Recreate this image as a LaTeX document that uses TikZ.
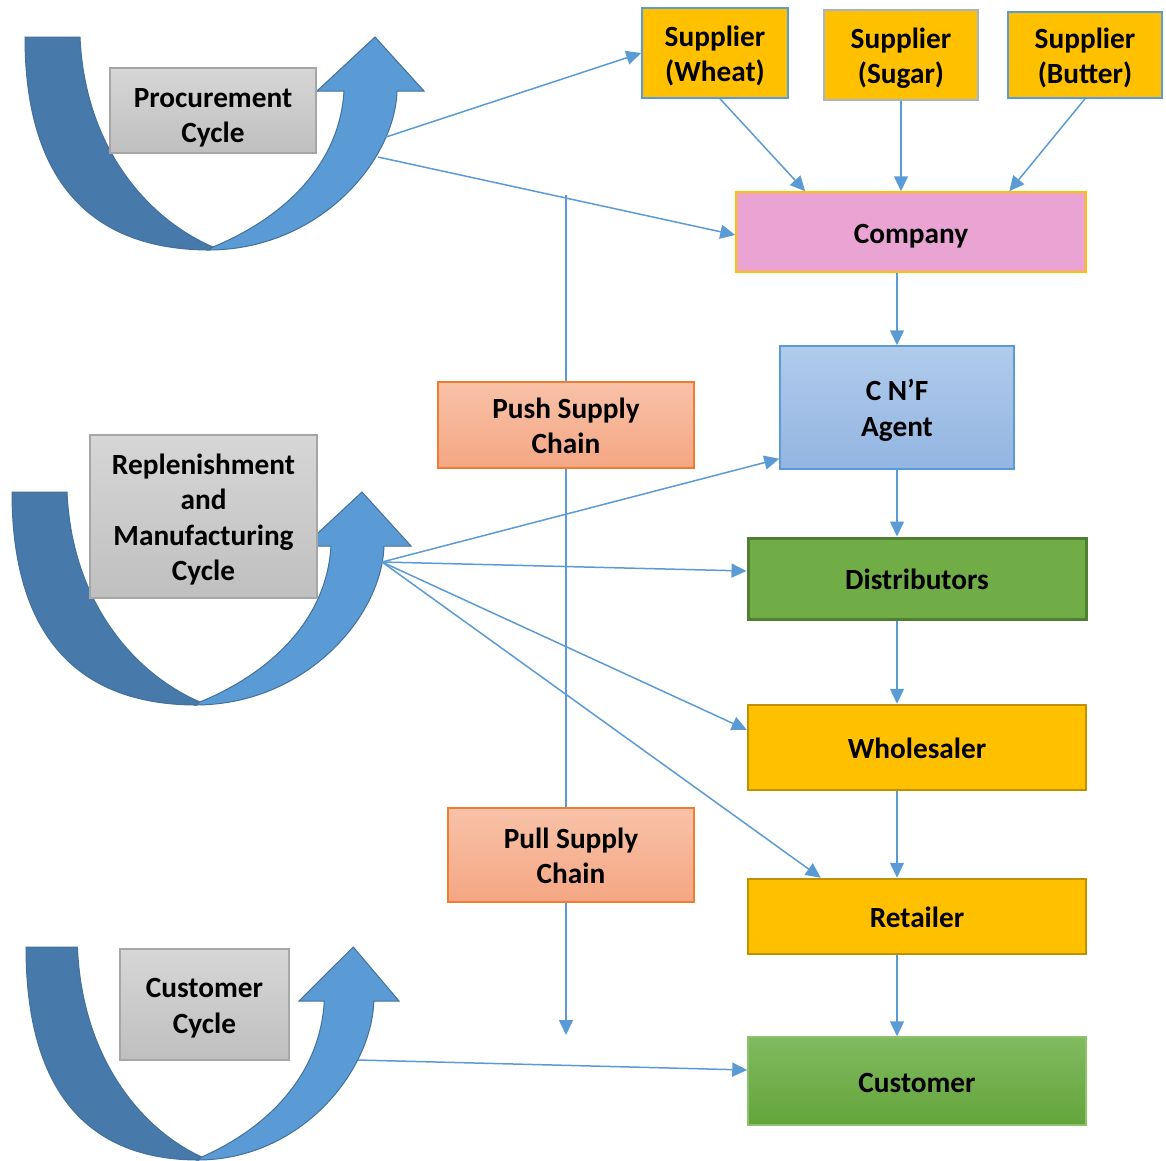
\documentclass[tikz,border=0pt]{standalone}
\usepackage{fontspec}
\setmainfont{Carlito}
\usetikzlibrary{arrows.meta,calc,backgrounds}

\definecolor{lineblue}{HTML}{5B9BD5}
\definecolor{arrowdark}{HTML}{4779AA}
\definecolor{arrowlight}{HTML}{5B9BD5}
\definecolor{arrowedge}{HTML}{41719C}
\definecolor{gold}{HTML}{FFC000}
\definecolor{golddark}{HTML}{BF9000}
\definecolor{pinkfill}{HTML}{EAA4D3}
\definecolor{greenfill}{HTML}{70AD47}
\definecolor{greendark}{HTML}{507E32}
\definecolor{greenedge}{HTML}{8DC26C}
\definecolor{orangeedge}{HTML}{ED7D31}
\definecolor{grayedge}{HTML}{A6A6A6}
\definecolor{slateedge}{HTML}{A9B4C8}

% centred block of lines, set a little low in its box (optional: how low)
\newcommand\boxtext[2][4pt]{\raisebox{-#1}[\height][\depth]{\begin{tabular}{@{}c@{}}#2\end{tabular}}}

\tikzset{
  every node/.style={font=\fontsize{29.3}{35.3}\selectfont\bfseries, inner sep=0pt},
  box/.style={draw, line width=1.5pt},
  supplierbox/.style={box, fill=gold, draw=lineblue},
  goldbox/.style={box, fill=gold, draw=golddark, line width=2.5pt, minimum width=338pt},
  cyclebox/.style={box, draw=grayedge, top color=black!16, bottom color=black!25},
  chainbox/.style={box, draw=orangeedge, top color={rgb,255:red,248;green,194;blue,168}, bottom color={rgb,255:red,244;green,166;blue,131}},
  conn/.style={draw=lineblue, line width=1.5pt, -{Triangle[length=15pt,width=14pt]}},
  uarrow/.pic={
    % trailing (dark) half of the U
    \path[draw=arrowedge, line width=1pt, fill=arrowdark]
      (0,0) .. controls (0,143) and (65,213) .. (185,213) -- (188,210)
      .. controls (125,183) and (60,113) .. (55,0) -- cycle;
    % leading (light) half with the head
    \path[draw=arrowedge, line width=1pt, fill=arrowlight]
      (188,210) .. controls (265,178) and (315,123) .. (319,54) -- (292,54)
      -- (350,0) -- (399,54) -- (372,54)
      .. controls (370,123) and (295,213) .. (183,213) -- cycle;
  }
}

\begin{document}
\begin{tikzpicture}[x=1pt,y=-1pt]
\useasboundingbox (0,0) rectangle (1166,1160);

% cycle arrows
\pic at (25,37) {uarrow};
\pic at (12,492) {uarrow};
\pic[xscale=0.935] at (26,947) {uarrow};

% cycle labels
\node[cyclebox, minimum width=206pt, minimum height=85pt] (proc) at (213,110.5) {\boxtext[7.5pt]{Procurement\\Cycle}};
\node[cyclebox, minimum width=227pt, minimum height=163pt] (repl) at (203.5,516.5) {\boxtext{Replenishment\\and\\Manufacturing\\Cycle}};
\node[cyclebox, minimum width=169pt, minimum height=111pt] (ccyc) at (204.5,1004.5) {\boxtext{Customer\\Cycle}};

% suppliers
\node[supplierbox, minimum width=146pt, minimum height=90pt] (wheat) at (715,53) {\boxtext{Supplier\\(Wheat)}};
\node[supplierbox, draw=slateedge, minimum width=154pt, minimum height=90pt] (sugar) at (901,55) {\boxtext{Supplier\\(Sugar)}};
\node[supplierbox, minimum width=154pt, minimum height=86pt] (butter) at (1085,55) {\boxtext{Supplier\\(Butter)}};

% main chain
\node[box, fill=pinkfill, draw=gold, minimum width=350pt, minimum height=80pt] (company) at (911,232) {\boxtext{Company}};
\node[box, draw=lineblue, top color={rgb,255:red,176;green,203;blue,235}, bottom color={rgb,255:red,147;green,181;blue,226}, minimum width=234pt, minimum height=123pt] (cnf) at (897,407.5) {\boxtext{C N’F\\Agent}};
\node[box, fill=greenfill, draw=greendark, line width=3pt, minimum width=338pt, minimum height=81pt] (dist) at (917,578.5) {\boxtext{Distributors}};
\node[goldbox, minimum height=85pt] (whole) at (917,747.5) {\boxtext{Wholesaler}};
\node[goldbox, minimum height=75pt] (retail) at (917,916.5) {\boxtext{Retailer}};
\node[box, draw=greenedge, top color={rgb,255:red,129;green,186;blue,96}, bottom color={rgb,255:red,99;green,164;blue,58}, minimum width=338pt, minimum height=88pt] (cust) at (917,1081) {\boxtext{Customer}};

% push / pull labels
\node[chainbox, minimum width=256pt, minimum height=86pt] (push) at (566,425) {\boxtext{Push Supply\\Chain}};
\node[chainbox, minimum width=246pt, minimum height=94pt] (pull) at (571,855) {\boxtext{Pull Supply\\Chain}};

% free ends of connectors
\coordinate (procA) at (383,138);
\coordinate (procB) at (378,157);
\coordinate (replHub) at (382,562);
\coordinate (custHub) at (358,1060);
\coordinate (chainTop) at (566,195);
\coordinate (chainEnd) at (566,1035);

% push/pull direction line, running behind the labels
\begin{pgfonlayer}{background}
\draw[conn] (chainTop) -- (chainEnd);
\end{pgfonlayer}

% procurement
\draw[conn] (procA) -- (wheat.west);
\draw[conn] (procB) -- ([yshift=-3pt]company.west);
\draw[conn] ([xshift=5pt]wheat.south) -- ([xshift=70pt]company.north west);
\draw[conn] (sugar.south) -- (sugar.south |- company.north);
\draw[conn] (butter.south) -- ([xshift=274pt]company.north west);

% downstream chain
\draw[conn] (cnf.north |- company.south) -- (cnf.north);
\draw[conn] (cnf.south) -- (cnf.south |- dist.north);
\draw[conn] (cnf.south |- dist.south) -- (cnf.south |- whole.north);
\draw[conn] (cnf.south |- whole.south) -- (cnf.south |- retail.north);
\draw[conn] (cnf.south |- retail.south) -- (cnf.south |- cust.north);

% replenishment and manufacturing
\draw[conn] (replHub) -- ([yshift=11pt]cnf.south west);
\draw[conn] (replHub) -- ([yshift=7.5pt]dist.west);
\draw[conn] (replHub) -- ([yshift=-26pt]whole.north west);
\draw[conn] (replHub) -- ([xshift=74pt]retail.north west);

% customer
\draw[conn] (custHub) -- ([yshift=11pt]cust.west);
\end{tikzpicture}
\end{document}
